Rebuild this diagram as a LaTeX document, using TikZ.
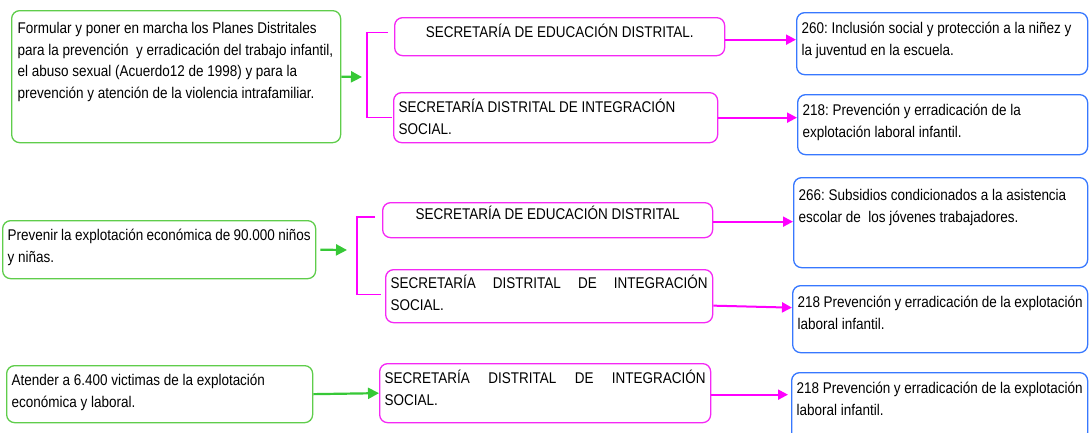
\documentclass[tikz,border=0pt]{standalone}
\usepackage{fontspec}
\setmainfont{Liberation Sans}[FakeStretch=0.87]
\usetikzlibrary{arrows.meta,calc}
\definecolor{gboxc}{RGB}{95,205,75}
\definecolor{garc}{RGB}{55,200,55}
\definecolor{mboxc}{RGB}{245,40,245}
\definecolor{marc}{RGB}{255,0,255}
\definecolor{bboxc}{RGB}{55,120,255}
\newcommand\bxc[4]{\parbox[t][#2][t]{#1}{\vspace*{#3}\strut#4}}
\tikzset{
  basebox/.style={draw, rounded corners=8pt, line width=1.3pt, inner ysep=0pt, inner xsep=5pt, anchor=north west, align=left},
  gbox/.style={basebox, draw=gboxc},
  mbox/.style={basebox, draw=mboxc},
  bbox/.style={basebox, draw=bboxc},
  garrow/.style={draw=garc, line width=2.2pt, -{Triangle[length=11pt,width=11pt]}},
  marrow/.style={draw=marc, line width=2pt, -{Triangle[length=10pt,width=10pt]}},
  mline/.style={draw=marc, line width=1.4pt}
}
\begin{document}
\begin{tikzpicture}[x=1pt,y=-1pt]
\clip (0,0) rectangle (1089,432);
\fill[white] (0,0) rectangle (1089,432);
\fontsize{15.5}{21.5}\selectfont\frenchspacing
% row 1
\node[gbox, inner xsep=6pt] (A1) at (11,10) {\bxc{317pt}{132pt}{8pt}{Formular y poner en marcha los Planes Distritales\\para la prevención \ y erradicación del trabajo infantil,\\el abuso sexual (Acuerdo12 de 1998) y para la\\prevención y atención de la violencia intrafamiliar.}};
\node[mbox] (B1) at (394,17) {\bxc{320pt}{38pt}{5pt}{\centering SECRETARÍA DE EDUCACIÓN DISTRITAL.}};
\node[mbox] (B2) at (393,92) {\bxc{314pt}{50pt}{5pt}{SECRETARÍA DISTRITAL DE INTEGRACIÓN\\SOCIAL.}};
\node[bbox] (C1) at (796,12) {\bxc{281pt}{62pt}{6pt}{260: Inclusión social y protección a la niñez y\\la juventud en la escuela.}};
\node[bbox] (C2) at (797,94) {\bxc{280pt}{60pt}{6pt}{218: Prevención y erradicación de la\\explotación laboral infantil.}};
% row 2
\node[gbox] (A2) at (2,220) {\bxc{303pt}{58pt}{5pt}{Prevenir la explotación económica de 90.000 niños\\y niñas.}};
\node[mbox] (B3) at (382,202) {\bxc{320pt}{35pt}{2pt}{\centering SECRETARÍA DE EDUCACIÓN DISTRITAL}};
\node[mbox] (B4) at (385,269) {\bxc{317pt}{53pt}{4pt}{SECRETARÍA\hfill DISTRITAL\hfill DE\hfill INTEGRACIÓN\\SOCIAL.}};
\node[bbox] (C3) at (793,177) {\bxc{284pt}{90pt}{8pt}{266: Subsidios condicionados a la asistencia\\escolar de \ los jóvenes trabajadores.}};
\node[bbox] (C4) at (792,285) {\bxc{285pt}{67pt}{7pt}{218 Prevención y erradicación de la explotación\\laboral infantil.}};
% row 3
\node[gbox] (A3) at (6,365) {\bxc{296pt}{57pt}{5pt}{Atender a 6.400 victimas de la explotación\\económica y laboral.}};
\node[mbox] (B5) at (379,363) {\bxc{321pt}{59pt}{5pt}{SECRETARÍA\hfill DISTRITAL\hfill DE\hfill INTEGRACIÓN\\SOCIAL.}};
\node[bbox] (C5) at (791,372) {\bxc{286pt}{68pt}{6pt}{218 Prevención y erradicación de la explotación\\laboral infantil.}};
% connectors row 1
\coordinate (t1) at (362,77);
\draw[garrow] (A1.east) -- (t1);
\draw[mline] ([xshift=-6pt,yshift=4pt]B1.west) -- ++(-21,0) |- ([xshift=-1pt]B2.west);
\draw[marrow] ([yshift=-3pt]B1.east) -- ([yshift=-3pt]B1.east -| C1.west);
\draw[marrow] (B2.east) -- (B2.east -| C2.west);
% connectors row 2
\coordinate (t2) at (347,250);
\draw[garrow, shorten <=4pt] (A2.east) -- (t2);
\draw[mline] ([xshift=-7pt,yshift=3pt]B3.west) -- ++(-18,0) |- ([xshift=-4pt,yshift=1.5pt]B4.west);
\draw[marrow] ([yshift=-1.5pt]B3.east) -- ([yshift=-1.5pt]B3.east -| C3.west);
\draw[marrow] ([yshift=-9.5pt]B4.east) -- ([yshift=-11.5pt]B4.east -| C4.west);
% connectors row 3
\draw[garrow] (A3.east) -- (B5.west);
\draw[marrow, shorten >=3pt] ([yshift=-1.5pt]B5.east) -- ([yshift=-1.5pt]B5.east -| C5.west);
\end{tikzpicture}
\end{document}
